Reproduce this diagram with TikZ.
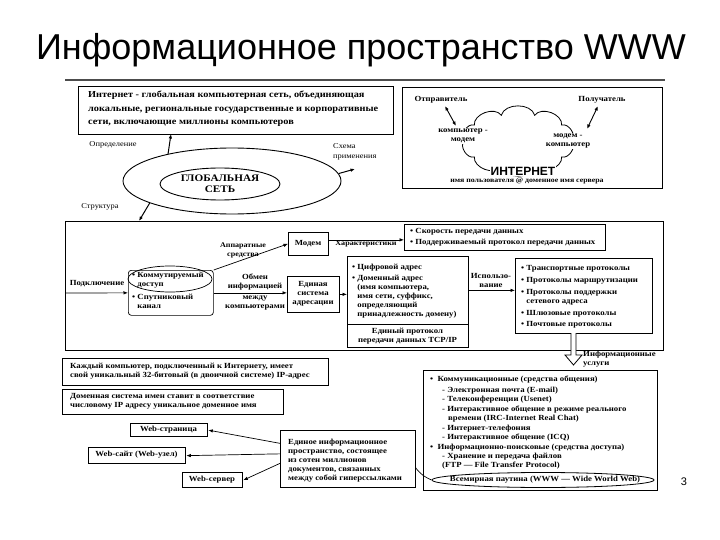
\documentclass[tikz,border=0pt]{standalone}
\usepackage{fontspec}
\setmainfont{Liberation Serif}[FakeStretch=1.12]
\newfontfamily\sansf{Liberation Sans}
\usetikzlibrary{shapes.geometric,arrows.meta}
\tikzset{
 bx/.style={draw, line width=0.7pt, anchor=north west, inner sep=0pt},
 wbx/.style={bx, line width=1.3pt},
 t/.style={font=\fontsize{7.8}{9}\selectfont\bfseries, inner sep=0pt, align=left},
 tc/.style={t, align=center},
 lbl/.style={font=\fontsize{7.5}{9.5}\selectfont, inner sep=0pt, align=left},
 arr/.style={-{Latex[length=4.5pt,width=3.5pt]}, line width=0.7pt},
 darr/.style={{Latex[length=4.5pt,width=3.5pt]}-{Latex[length=4.5pt,width=3.5pt]}, line width=0.9pt},
 ln/.style={line width=0.7pt},
 puff/.style={bend left=75},
}
\begin{document}
\begin{tikzpicture}[x=1pt,y=-1pt]
\useasboundingbox (0,0) rectangle (720,540);
\fill[white] (0,0) rectangle (720,540);
% title
\node[font=\sansf\fontsize{36}{40}\selectfont, inner sep=0pt] (title) at (361,50) {Информационное пространство WWW};
\coordinate (rl) at (65,80); \coordinate (rr) at (665,80);
\draw[line width=1.2pt, black!70] (rl) -- (rr);

% definition box
\node[bx, minimum width=315pt, minimum height=48pt] (b1) at (78,86) {};
\node[t, font=\fontsize{9.2}{13.5}\selectfont\bfseries, anchor=north west] (b1t) at (88,91)
 {Интернет - глобальная компьютерная сеть, объединяющая\\локальные, региональные государственные и корпоративные\\сети, включающие миллионы компьютеров};
\node[lbl] (defl) at (113,145) {Определение};
\node[lbl, anchor=west] (schl) at (333,152) {Схема\\применения};
\node[lbl] (strl) at (100,207) {Структура};
\node[ellipse, draw, line width=0.9pt, minimum width=218pt, minimum height=66pt] (gl) at (232,181) {};
\node[ellipse, draw, line width=0.9pt, minimum width=120pt, minimum height=32pt] (glin) at (220,184) {};
\node[tc, font=\fontsize{10}{11}\selectfont\bfseries] (glt) at (220,184) {ГЛОБАЛЬНАЯ\\СЕТЬ};
\coordinate (defTip) at (171,134);
\coordinate (schTip) at (355,169);
\coordinate (strTip) at (139,221);
\draw[arr, line width=1pt] (gl.157) -- (defTip);
\draw[arr, line width=1pt] (gl.4) -- (schTip);
\draw[arr, line width=1pt] (gl.195) -- (strTip);

% internet cloud box
\node[bx, minimum width=260pt, minimum height=101pt] (b2) at (402,87) {};
\node[t] (sender) at (441,100) {Отправитель};
\node[t] (receiver) at (602,100) {Получатель};
% cloud outline
\coordinate (c0) at (572,141);
\coordinate (c1) at (561.7,156.9);
\coordinate (c2) at (534.7,166.7);
\coordinate (c3) at (501.3,166.7);
\coordinate (c4) at (474.3,156.9);
\coordinate (c5) at (464,141);
\coordinate (c6) at (474.3,125.1);
\coordinate (c7) at (501.3,115.3);
\coordinate (c8) at (534.7,115.3);
\coordinate (c9) at (561.7,125.1);
\draw[line width=0.8pt] (c0) to[puff] (c1) to[puff] (c2) to[puff] (c3) to[puff] (c4) to[puff] (c5)
  to[puff] (c6) to[puff] (c7) to[puff] (c8) to[puff] (c9) to[puff] (c0);
\node[tc, fill=white, inner sep=1pt] (cm) at (463,136) {компьютер -\\модем};
\node[tc, fill=white, inner sep=1pt] (mc) at (568,141) {модем -\\компьютер};
\coordinate (sA) at (445,106); \coordinate (sB) at (456,126);
\coordinate (rA) at (598,106); \coordinate (rB) at (587,129);
\draw[darr] (sA) -- (sB);
\draw[darr] (rA) -- (rB);
\node[font=\sansf\fontsize{12}{13}\selectfont\bfseries, fill=white, inner sep=0.5pt] (inet) at (523,171) {ИНТЕРНЕТ};
\node[t, font=\fontsize{7}{8}\selectfont\bfseries] (mail) at (527,181) {имя пользователя @ доменное имя сервера};

% structure box
\node[bx, minimum width=598pt, minimum height=129pt] (b3) at (65,221) {};
\node[t] (connl) at (97,284) {Подключение};
\coordinate (connL) at (65,293);
\node[bx, rounded corners=3pt, minimum width=85pt, minimum height=45pt] (kd) at (128,270) {};
\node[t, anchor=north west] (kdt) at (132,272) {• Коммутируемый\\\phantom{• }доступ\\[4pt]• Спутниковый\\\phantom{• }канал};
\node[ellipse, draw, line width=0.7pt, minimum width=84pt, minimum height=26pt] (kdell) at (170,279) {};
\draw[arr] (connL) -- (kd.west);
\node[bx, minimum width=40pt, minimum height=23pt] (modem) at (288,232) {};
\node[t] (modemt) at (308,243.5) {Модем};
\draw[arr] (kd.north east) -- (modem.west);
\node[tc, font=\fontsize{7.2}{9}\selectfont\bfseries] (hw) at (243,250) {Аппаратные\\средства};
\node[bx, minimum width=201pt, minimum height=26pt] (speed) at (404,224) {};
\node[t, anchor=north west] (speedt) at (410,228) {• Скорость передачи данных\\[2pt]• Поддерживаемый протокол передачи данных};
\draw[arr] ([yshift=4pt]modem.east) -- ([yshift=4pt]modem.east -| speed.west);
\node[t, font=\fontsize{7.2}{9}\selectfont\bfseries, anchor=north] (charl) at (366,241) {Характеристики};
\node[bx, minimum width=52pt, minimum height=36pt] (addr) at (287,276) {};
\node[tc] (addrt) at (313,294) {Единая\\система\\адресации};
\draw[arr] (kd.east) -- (kd.east -| addr.west);
\node[tc] (exch) at (255,292.5) {Обмен\\информацией\\[2pt]между\\компьютерами};
\node[bx, minimum width=121pt, minimum height=68pt] (tallA) at (347,256) {};
\node[bx, minimum width=121pt, minimum height=23pt] (tallB) at (347,324) {};
\node[t, anchor=north west] (tallAt) at (352,264) {• Цифровой адрес\\[2pt]• Доменный адрес\\\phantom{• }(имя компьютера,\\\phantom{• }имя сети, суффикс,\\\phantom{• }определяющий\\\phantom{• }принадлежность домену)};
\node[tc] (tallBt) at (407.5,336) {Единый протокол\\передачи данных TCP/IP};
\draw[arr] (addr.east) -- (addr.east -| tallA.west);
\node[bx, minimum width=137pt, minimum height=75pt] (proto) at (515,258) {};
\node[t, anchor=north west] (protot) at (521,265) {• Транспортные протоколы\\[3pt]• Протоколы маршрутизации\\[3pt]• Протоколы поддержки\\\phantom{• }сетевого адреса\\[3pt]• Шлюзовые протоколы\\[2pt]• Почтовые протоколы};
\draw[arr] (tallA.east) -- (tallA.east -| proto.west);
\node[tc, anchor=south] (usel) at (491,288) {Использо-\\вание};

% hollow arrow to services
\draw[line width=0.8pt, fill=white] (571,333) -- (571,355) -- (565,355) -- (573.5,365) -- (582,355) -- (576,355) -- (576,333);
\node[t, anchor=north west] (infol) at (583,351) {Информационные\\услуги};

% lower left boxes
\node[bx, minimum width=266pt, minimum height=27pt] (every) at (62,358) {};
\node[t, anchor=north west] (everyt) at (70,363) {Каждый компьютер, подключенный к Интернету, имеет\\свой уникальный 32-битовый (в двоичной системе) IP-адрес};
\node[bx, minimum width=221pt, minimum height=25pt] (dns) at (62,389) {};
\node[t, anchor=north west] (dnst) at (70,393) {Доменная система имен ставит в соответствие\\числовому IP адресу уникальное доменное имя};

\node[wbx, minimum width=77pt, minimum height=13pt] (wpage) at (130,423) {};
\node[t] (wpaget) at (168.5,429.5) {Web-страница};
\node[wbx, minimum width=97pt, minimum height=16pt] (wsite) at (88,447) {};
\node[t] (wsitet) at (136.5,455) {Web-сайт (Web-узел)};
\node[wbx, minimum width=60pt, minimum height=15pt] (wserv) at (182,472) {};
\node[t] (wservt) at (212,479.5) {Web-сервер};
\node[bx, minimum width=135pt, minimum height=57pt] (single) at (280,430) {};
\node[t, anchor=north west] (singlet) at (288,439) {Единое информационное\\пространство, состоящее\\из сотен миллионов\\документов, связанных\\между собой гиперссылками};
\draw[arr] ([yshift=15.5pt]single.west) -- (wpage.east);
\draw[arr] ([yshift=5pt]single.west) -- (wsite.east);
\draw[arr] ([yshift=-4.5pt]single.west) -- (wserv.east);

% services box
\node[bx, minimum width=234pt, minimum height=120pt] (svc) at (423,370) {};
\node[t, anchor=west] (s1) at (430,380) {• \ Коммуникационные (средства общения)};
\node[t, anchor=west] (s2) at (442,391) {- Электронная почта (E-mail)};
\node[t, anchor=west] (s3) at (442,400) {- Телеконференции (Usenet)};
\node[t, anchor=west] (s4) at (442,410) {- Интерактивное общение в режиме реального};
\node[t, anchor=west] (s5) at (448,419) {времени (IRC-Internet Real Chat)};
\node[t, anchor=west] (s6) at (442,429) {- Интернет-телефония};
\node[t, anchor=west] (s7) at (442,438) {- Интерактивное общение (ICQ)};
\node[t, anchor=west] (s8) at (430,448) {• \ Информационно-поисковые (средства доступа)};
\node[t, anchor=west] (s9) at (442,457) {- Хранение и передача файлов};
\node[t, anchor=west] (s10) at (442,466) {(FTP — File Transfer Protocol)};
\node[ellipse, draw, line width=0.8pt, minimum width=222pt, minimum height=15pt] (www) at (543,480) {};
\node[t] (wwwt) at (545,480) {Всемирная паутина (WWW — Wide World Web)};
\draw[ln] ([yshift=-9pt]single.east) to[bend right=15] (www.west);

\node[font=\sansf\fontsize{11}{12}\selectfont, inner sep=0pt] (pg) at (684,482) {3};
\end{tikzpicture}
\end{document}
